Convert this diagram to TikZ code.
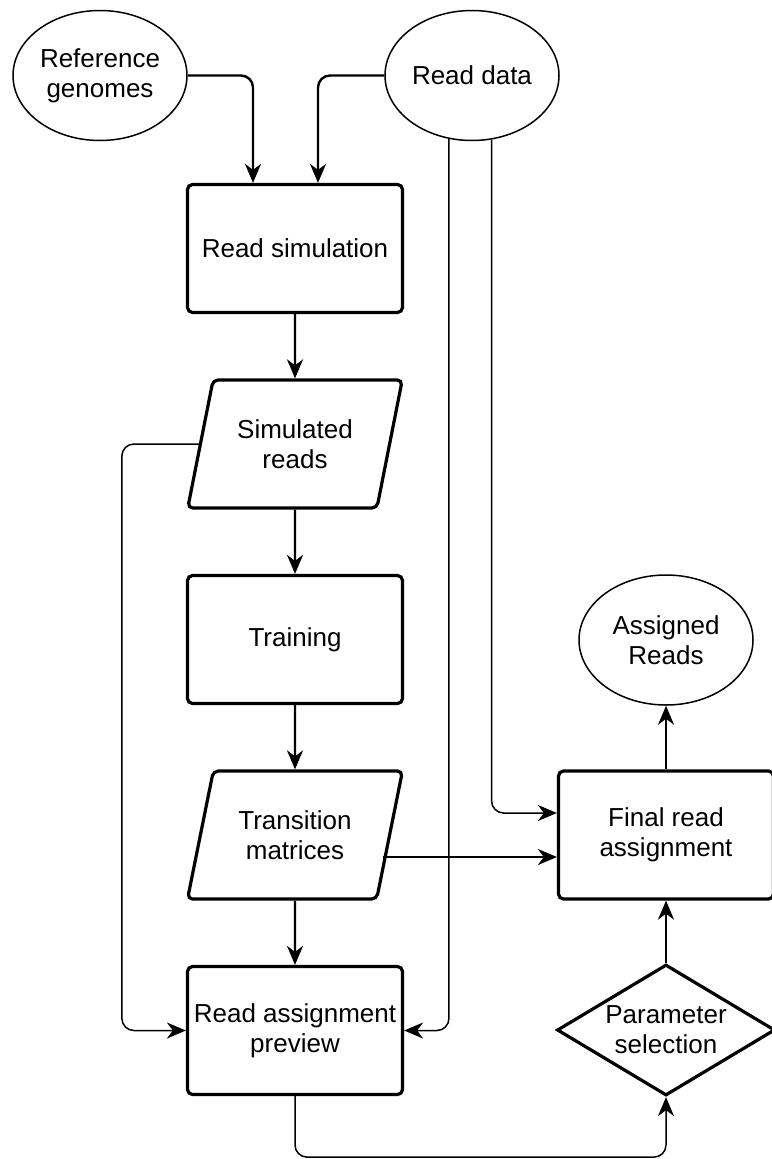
\documentclass[tikz,border=0pt]{standalone}
\usepackage{fontspec}
\setmainfont{Liberation Sans}
\usetikzlibrary{arrows.meta,shapes.geometric}
\begin{document}
\begin{tikzpicture}[x=1pt,y=-1pt,
  every node/.style={font=\fontsize{26}{30}\selectfont,align=center,inner sep=0pt},
  src/.style={ellipse,draw,line width=1.5pt,minimum width=174pt,minimum height=130pt},
  proc/.style={rectangle,draw,line width=3.2pt,rounded corners=5pt,minimum width=215pt,minimum height=128pt},
  data/.style={trapezium,trapezium left angle=70,trapezium right angle=110,trapezium stretches=true,draw,line width=3.2pt,rounded corners=5pt,minimum width=215pt,minimum height=128pt},
  choice/.style={diamond,draw,line width=3.2pt,aspect=1.66,minimum width=218pt,minimum height=131pt},
  >={Stealth[length=19pt,width=16pt,inset=6pt]},
  flow/.style={->,line width=2.4pt,rounded corners=12pt},
  feed/.style={->,line width=1.5pt,rounded corners=12pt}]
\useasboundingbox (0,0) rectangle (771,1159);
\node[src] (refgen) at (100,75.5) {Reference\\genomes};
\node[src] (readdata) at (472,75.5) {Read data};
\node[proc] (readsim) at (295,248.5) {Read simulation};
\node[data] (simreads) at (295,444) {Simulated\\reads};
\node[proc] (training) at (295,639.5) {Training};
\node[data] (transmat) at (295,835) {Transition\\matrices};
\node[proc] (preview) at (295,1030.5) {Read assignment\\preview};
\node[src] (assigned) at (666,640) {Assigned\\Reads};
\node[proc] (final) at (666,835) {Final read\\assignment};
\node[choice] (param) at (666,1030) {Parameter\\selection};
\draw[flow] (refgen.east) -| ([xshift=-42pt]readsim.north);
\draw[flow] (readdata.west) -| ([xshift=23pt]readsim.north);
\draw[feed] (readdata.250) |- (preview.east);
\draw[feed] (readdata.287) |- ([yshift=22pt]final.west);
\draw[flow] (readsim) -- (simreads);
\draw[flow] (simreads) -- (training);
\draw[flow] (training) -- (transmat);
\draw[flow] (transmat) -- (preview);
\draw[feed] (simreads.left side) -| ([xshift=-64pt]preview.west) -- (preview.west);
\draw[flow] ([xshift=-8pt,yshift=-22pt]transmat.right side) -- ([yshift=-22pt]final.west);
\draw[flow] (final) -- (assigned);
\draw[flow] (param) -- (final);
\draw[feed] (preview.south) -- ++(0,61) -| (param.south);
\end{tikzpicture}
\end{document}
